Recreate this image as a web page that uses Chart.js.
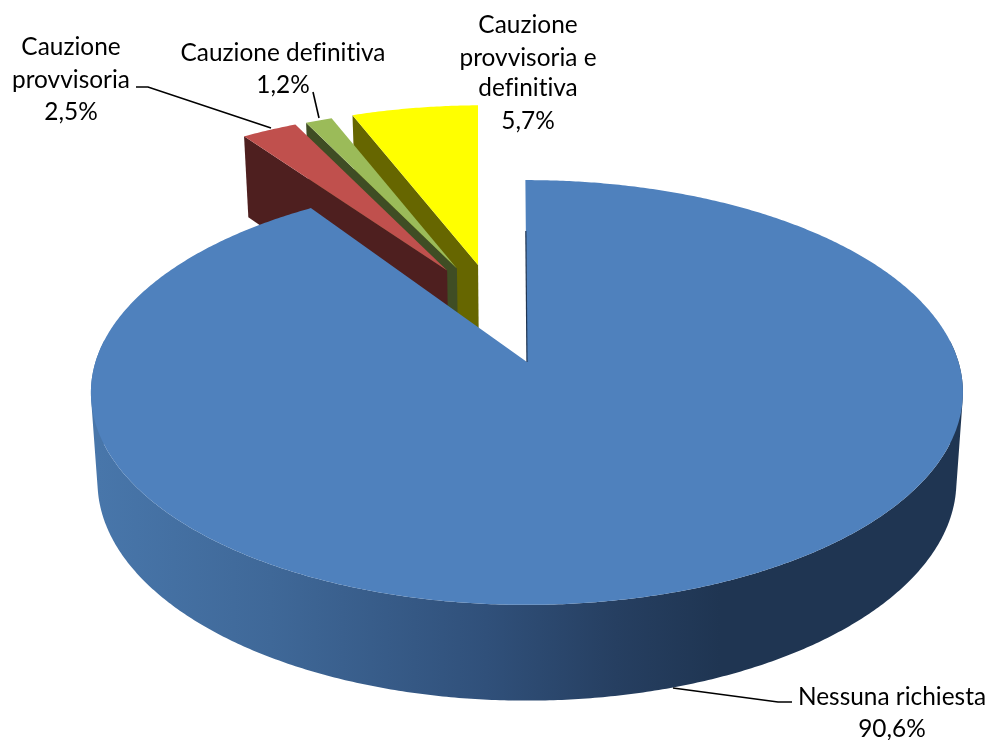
<!DOCTYPE html>
<html><head><meta charset="utf-8">
<style>html,body{margin:0;padding:0;background:#fff}canvas{display:block}</style>
<script src="https://cdn.jsdelivr.net/npm/chart.js@4"></script>
</head><body><canvas id="c" width="990" height="740"></canvas>
<script>
const categories = ['Nessuna richiesta', 'Cauzione provvisoria', 'Cauzione definitiva', 'Cauzione provvisoria e definitiva'];
const values = [90.6, 2.5, 1.2, 5.7];
const valueLabels = ['90,6%', '2,5%', '1,2%', '5,7%'];
const topColors = ['#4f81bd', '#c0504d', '#9bbb59', '#ffff00'];
const wallColors = ['#1f3552', '#4e1f1f', '#3f4d24', '#666600'];
const explode = [[-0.007, 0], [-0.205, 0.47], [-0.181, 0.48], [-0.129, 0.50]];
const tilt = [0, -1.3, -1.0, -0.7];
const labelLines = [
  {x: 892, ys: [697, 729], lines: ['Nessuna richiesta', valueLabels[0]]},
  {x: 71, ys: [47, 80, 112], lines: ['Cauzione', 'provvisoria', valueLabels[1]]},
  {x: 283, ys: [53, 85], lines: ['Cauzione definitiva', valueLabels[2]]},
  {x: 528, ys: [25, 58, 88, 121], lines: ['Cauzione', 'provvisoria e', 'definitiva', valueLabels[3]]}
];
const leaders = [
  [[792, 702], [778, 702], [673, 688]],
  [[136, 87], [148, 87], [271, 128]],
  [[313, 92], [319, 118]]
];
const view = {cx: 530, cy: 362, b: 431.5, a: 208, k: 0.1435, depth: 88, sx: 0.985, sy: 1.032};

function upper(u, v) {
  const w = 1 + view.k * v;
  return [view.cx + view.b * u / w, view.cy - view.a * v / w];
}
function lower(p) {
  return [view.cx + (p[0] - view.cx) * view.sx, view.cy + view.depth + (p[1] - view.cy) * view.sy];
}
function addPoly(ctx, pts) {
  pts.forEach((p, i) => i ? ctx.lineTo(p[0], p[1]) : ctx.moveTo(p[0], p[1]));
  ctx.closePath();
}
function trace(ctx, pts) {
  ctx.beginPath();
  addPoly(ctx, pts);
}
function signedArea(pts) {
  let s = 0;
  pts.forEach((p, i) => {
    const q = pts[(i + 1) % pts.length];
    s += p[0] * q[1] - q[0] * p[1];
  });
  return s;
}
function rimAngles(el, deg) {
  const n = Math.max(6, Math.round((el.endAngle - el.startAngle) * 120));
  const d = deg * Math.PI / 180;
  const out = [];
  for (let i = 0; i <= n; i++) out.push(el.startAngle + d + (el.endAngle - el.startAngle) * i / n);
  return out;
}
function rimPoint(t, off) {
  return upper(Math.cos(t) + off[0], Math.sin(-t) + off[1]);
}
const pie3d = {
  id: 'pie3d',
  beforeDatasetsDraw(chart) {
    const ctx = chart.ctx;
    const arcs = chart.getDatasetMeta(0).data;
    ctx.save();
    [3, 2, 1].forEach(i => {
      const el = arcs[i], off = explode[i];
      const apex = upper(off[0], off[1]);
      const rim = rimAngles(el, tilt[i]).map(t => rimPoint(t, off));
      const edge = rim[0];
      ctx.fillStyle = wallColors[i];
      trace(ctx, [apex, edge, lower(edge), lower(apex)]);
      ctx.fill();
      ctx.fillStyle = topColors[i];
      trace(ctx, [apex].concat(rim));
      ctx.fill();
    });
    const el = arcs[0], off = explode[0];
    const angles = rimAngles(el, tilt[0]);
    const g = ctx.createLinearGradient(view.cx - view.b, 0, view.cx + view.b, 0);
    g.addColorStop(0, '#4876aa');
    g.addColorStop(0.2, '#3f6898');
    g.addColorStop(0.45, '#30507a');
    g.addColorStop(0.6, '#263f61');
    g.addColorStop(0.72, '#1f3552');
    g.addColorStop(1, '#1f3552');
    ctx.fillStyle = g;
    ctx.beginPath();
    for (let i = 0; i < angles.length - 1; i++) {
      if (-Math.sin(angles[i]) > 0.1 && -Math.sin(angles[i + 1]) > 0.1) continue;
      const p = rimPoint(angles[i], off), q = rimPoint(angles[i + 1], off);
      const quad = [p, q, lower(q), lower(p)];
      addPoly(ctx, signedArea(quad) < 0 ? quad.reverse() : quad);
    }
    ctx.fill('nonzero');
    const apex = upper(off[0], off[1]);
    const rim = angles.map(t => rimPoint(t, off));
    ctx.fillStyle = topColors[0];
    trace(ctx, [apex].concat(rim));
    ctx.fill();
    const r = rim[0];
    ctx.strokeStyle = wallColors[0];
    ctx.lineWidth = 1.2;
    ctx.beginPath();
    ctx.moveTo(apex[0], apex[1]);
    ctx.lineTo(apex[0] + (r[0] - apex[0]) * 0.72, apex[1] + (r[1] - apex[1]) * 0.72);
    ctx.stroke();
    ctx.restore();
    return false;
  },
  afterDraw(chart) {
    const ctx = chart.ctx;
    ctx.save();
    ctx.strokeStyle = '#000';
    ctx.lineWidth = 1.6;
    leaders.forEach(l => {
      ctx.beginPath();
      l.forEach((p, i) => i ? ctx.lineTo(p[0], p[1]) : ctx.moveTo(p[0], p[1]));
      ctx.stroke();
    });
    ctx.fillStyle = '#000';
    ctx.font = '24.4px Lato';
    ctx.letterSpacing = '0.01px';
    ctx.textAlign = 'center';
    ctx.textBaseline = 'middle';
    labelLines.forEach(l => l.lines.forEach((s, i) => ctx.fillText(s, l.x, l.ys[i])));
    ctx.restore();
  }
};
new Chart(document.getElementById('c'), {
  type: 'pie',
  data: {labels: categories, datasets: [{data: values, backgroundColor: topColors, borderWidth: 0}]},
  options: {
    responsive: false, animation: false, rotation: -0.3,
    plugins: {legend: {display: false}, tooltip: {enabled: false}}
  },
  plugins: [pie3d]
});
</script></body></html>
